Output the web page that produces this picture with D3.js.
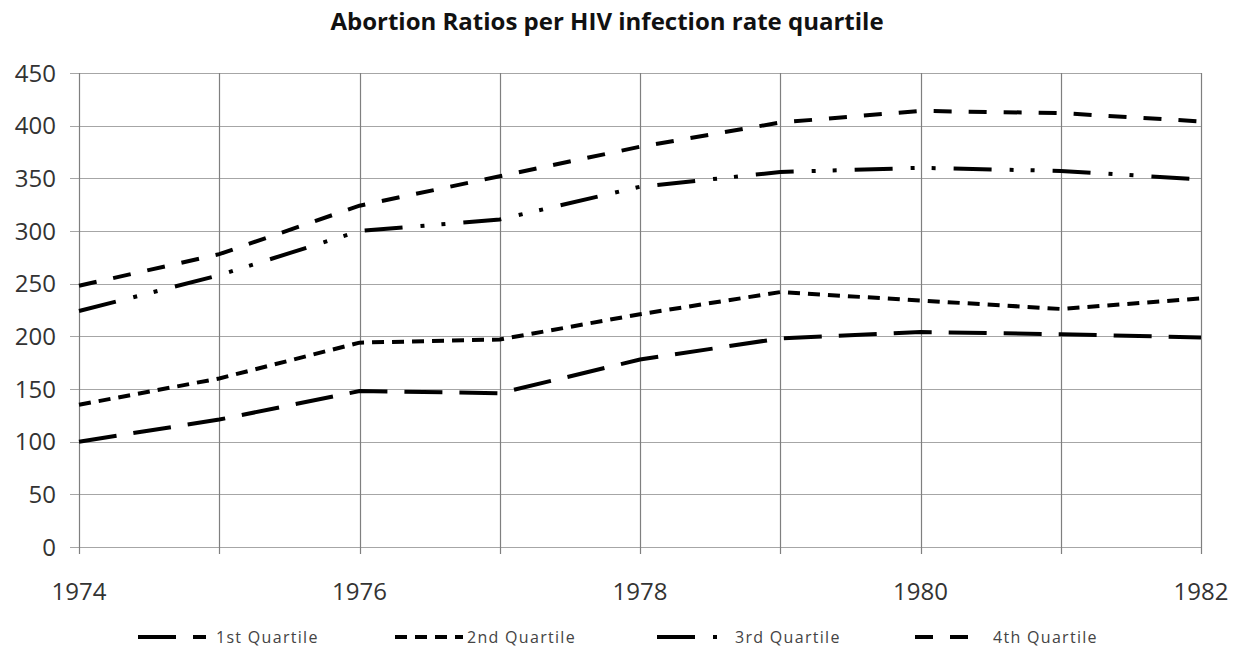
<!DOCTYPE html>
<html><head><meta charset="utf-8">
<title>Abortion Ratios per HIV infection rate quartile</title>
<script src="https://cdn.jsdelivr.net/npm/d3@7"></script>
<style>
body { margin:0; background:#fff; }
text { font-family: "Open Sans", "DejaVu Sans", sans-serif; }
</style>
</head>
<body>
<script>
// data
var years = [1974, 1975, 1976, 1977, 1978, 1979, 1980, 1981, 1982];
var yTicks = [0, 50, 100, 150, 200, 250, 300, 350, 400, 450];
var xTickYears = [1974, 1976, 1978, 1980, 1982];
var seriesNames = ["1st Quartile", "2nd Quartile", "3rd Quartile", "4th Quartile"];
var q1 = [100, 121, 148, 146, 178, 198, 204, 202, 199];
var q2 = [135, 160, 194, 197, 221, 242, 234, 226, 236];
var q3 = [224, 258, 300, 311, 342, 356, 360, 357, 349];
var q4 = [248, 278, 324, 352, 380, 403, 414, 412, 404];
var dashes = ["38,17", "12,8", "38,18,4,17,4,18", "18,17"];

var width = 1240, height = 655;
var plotL = 79, plotR = 1201, plotT = 73, plotB = 547;

var svg = d3.select("body").append("svg").attr("width", width).attr("height", height);

var x = d3.scaleLinear().domain([1974, 1982]).range([plotL, plotR]);
var y = d3.scaleLinear().domain([0, 450]).range([plotB, plotT]);

// horizontal gridlines (extend a little left as tick marks)
svg.append("g").selectAll("line").data(yTicks).enter().append("line")
	.attr("x1", plotL - 9).attr("x2", plotR)
	.attr("y1", function(d) { return Math.round(y(d)) + 0.5; })
	.attr("y2", function(d) { return Math.round(y(d)) + 0.5; })
	.attr("stroke", "#a6a6a6").attr("stroke-width", 1.2);

// vertical gridlines for each year
svg.append("g").selectAll("line").data(years).enter().append("line")
	.attr("x1", function(d) { return Math.round(x(d)) + 0.5; })
	.attr("x2", function(d) { return Math.round(x(d)) + 0.5; })
	.attr("y1", plotT).attr("y2", plotB + 7)
	.attr("stroke", "#7f7f7f").attr("stroke-width", 1.2);

// y axis labels
svg.append("g").selectAll("text").data(yTicks).enter().append("text")
	.attr("x", 56).attr("y", function(d) { return y(d); })
	.attr("dy", "0.36em").attr("text-anchor", "end")
	.attr("font-size", 24).attr("fill", "#333")
	.text(function(d) { return d; });

// x axis labels
svg.append("g").selectAll("text").data(xTickYears).enter().append("text")
	.attr("x", function(d) { return x(d); }).attr("y", 600)
	.attr("text-anchor", "middle")
	.attr("font-size", 24).attr("fill", "#333")
	.text(function(d) { return d; });

// title
svg.append("text").attr("x", 607).attr("y", 30)
	.attr("text-anchor", "middle").attr("font-size", 24).attr("font-weight", "bold")
	.attr("fill", "#111")
	.text("Abortion Ratios per HIV infection rate quartile");

var allSeries = [q1, q2, q3, q4];
var line = d3.line()
	.x(function(d, i) { return x(years[i]); })
	.y(function(d) { return y(d); });

svg.append("g").selectAll("path").data(allSeries).enter().append("path")
	.attr("d", line)
	.attr("fill", "none")
	.attr("stroke", "#000")
	.attr("stroke-width", 4)
	.attr("stroke-dasharray", function(d, i) { return dashes[i]; });

// legend
var legendX = [138, 395, 657, 915];
var leg = svg.append("g").selectAll("g").data(seriesNames).enter().append("g")
	.attr("transform", function(d, i) { return "translate(" + legendX[i] + ",637)"; });
leg.append("line")
	.attr("x1", 0).attr("x2", 68).attr("y1", 0).attr("y2", 0)
	.attr("stroke", "#000").attr("stroke-width", 4)
	.attr("stroke-dasharray", function(d, i) { return dashes[i]; });
leg.append("text")
	.attr("x", function(d, i) { return i == 1 ? 72 : 78; }).attr("y", 0).attr("dy", "0.36em")
	.attr("font-size", 16).attr("fill", "#444").attr("letter-spacing", 1.3)
	.text(function(d) { return d; });
</script>
</body></html>
